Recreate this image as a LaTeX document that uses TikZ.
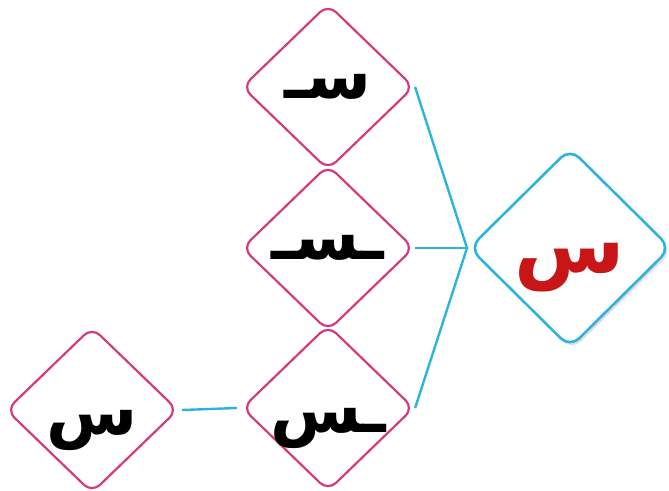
\documentclass[tikz,border=0pt]{standalone}
\usepackage{fontspec}
\newfontfamily\arabicfont[Script=Arabic]{DejaVu Sans}
\TeXXeTstate=1
\usetikzlibrary{shapes.geometric,shadows}
\definecolor{rosa}{RGB}{212,58,128}
\definecolor{azzurro}{RGB}{45,180,220}
\definecolor{rosso}{RGB}{200,22,24}

\begin{document}
\begin{tikzpicture}[x=1pt,y=-1pt,
  rombo/.style={diamond,draw=rosa,line width=2.2pt,rounded corners=11pt,minimum width=172pt,minimum height=166pt,inner sep=0pt},
  lettera/.style={font=\fontsize{66}{72}\selectfont\arabicfont\bfseries},
  filo/.style={draw=azzurro,line width=2.4pt}]

\useasboundingbox (0,0) rectangle (669,490);

% le tre forme
\node[rombo] (ini) at (328,87) {};
\node[lettera] (tini) at (ini.center) {\beginR سـ\endR};

\node[rombo] (med) at (328,248) {};
\node[lettera] (tmed) at (med.center) {\beginR ـسـ\endR};

\node[rombo] (fin) at (328,408) {};
\node[lettera] (tfin) at (328,428) {\beginR ـس\endR};

\node[rombo] (iso) at (92,410) {};
\node[lettera] (tiso) at (92,430) {\beginR س\endR};

% lettera principale
\node[rombo,draw=azzurro,line width=2.6pt,minimum width=202pt,minimum height=200pt,rounded corners=13pt,fill=white,
  drop shadow={opacity=0.25,shadow xshift=2pt,shadow yshift=-3pt}] (main) at (570,248) {};
\node[lettera,text=rosso,font=\fontsize{80}{86}\selectfont\arabicfont\bfseries] (tmain) at (570,268) {\beginR س\endR};

\coordinate (j) at (467,248);

\draw[filo] (ini.east) -- (j);
\draw[filo] (med.east) -- (j);
\draw[filo] (fin.east) -- (j);
\draw[filo] ([xshift=3pt]iso.east) -- ([xshift=-4pt]fin.west);

\end{tikzpicture}
\end{document}
